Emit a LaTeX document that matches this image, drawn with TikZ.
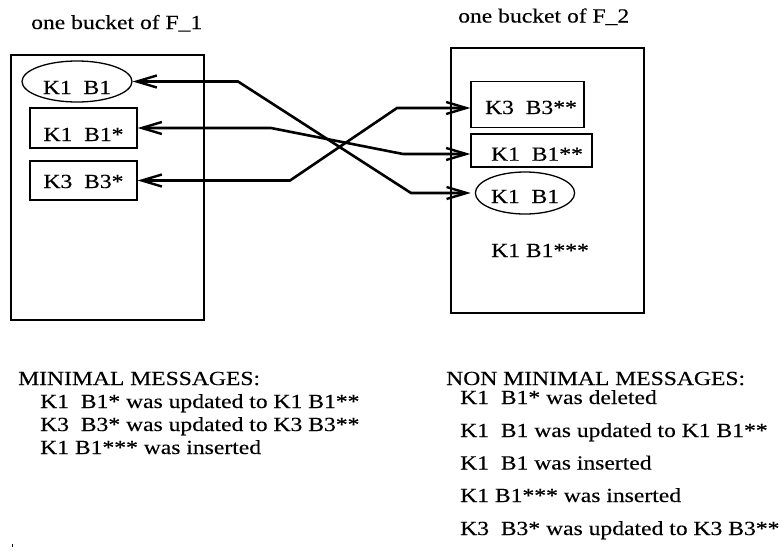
\documentclass[tikz,border=0pt]{standalone}
\usepackage{fontspec}
\setmainfont[FakeStretch=1.18,FakeBold=0.3]{Liberation Serif}
\usetikzlibrary{shapes.geometric,arrows.meta}
\tikzset{
  bucket/.style={draw, line width=1.5pt, minimum width=193pt, minimum height=265pt, inner sep=0pt},
  rec/.style={draw, line width=1.3pt, rectangle, inner sep=1pt},
  ell/.style={draw, line width=1.3pt, ellipse, inner sep=1pt},
  conn/.style={line width=2.6pt, {Straight Barb[length=20pt,width=12pt,line width=2.4pt]}-{Straight Barb[length=20pt,width=12pt,line width=2.4pt]}},
  msg/.style={anchor=base west, inner sep=0pt},
}
\begin{document}
\begin{tikzpicture}[x=1pt, y=-1pt, font=\fontsize{20}{24}\selectfont]
\useasboundingbox (0,0) rectangle (782,552);
% titles
\node[msg] (t1) at (31,29) {one bucket of F\_1};
\node[msg] (t2) at (458,22.5) {one bucket of F\_2};
% buckets
\node[bucket] (L) at (107.5,187.5) {};
\node[bucket] (R) at (547.5,180.5) {};
% left entries
\node[ell, minimum width=110pt, minimum height=41pt, text height=25pt, text depth=0pt] (le) at (77,81.5) {K1\ \ B1};
\node[rec, minimum width=107pt, minimum height=40pt, text height=26pt, text depth=0pt] (lb1) at (83.5,128) {K1\ \ B1*};
\node[rec, minimum width=107pt, minimum height=39pt, text height=15pt, text depth=0pt] (lb3) at (83.5,180.5) {K3\ \ B3*};
% right entries
\node[rec, minimum width=113pt, minimum height=46pt, text height=18.6pt, text depth=0pt] (rb3) at (527.5,104.7) {\hspace*{7pt}K3\ \ B3**};
\node[rec, minimum width=121pt, minimum height=33pt, text height=20.4pt, text depth=0pt] (rb1) at (531.5,150.5) {\hspace*{11pt}K1\ \ B1**};
\node[ell, minimum width=96pt, minimum height=42pt, text height=20pt, text depth=0pt] (re) at (525,193) {K1\ \ B1};
\node[anchor=base, inner sep=0pt] (r3) at (540,257) {K1 B1***};
% connector bends
\coordinate (c1a) at (238,81.5);
\coordinate (c1b) at (411,193);
\coordinate (c2a) at (271,128);
\coordinate (c2b) at (403,154);
\coordinate (c3a) at (290,180.5);
\coordinate (c3b) at (397,108);
\draw[conn, shorten >=4pt] (le.east) -- (c1a) -- (c1b) -- (re.west);
\draw[conn] (lb1.east) -- (c2a) -- (c2b) -- (c2b -| rb1.west);
\draw[conn] (lb3.east) -- (c3a) -- (c3b) -- (c3b -| rb3.west);
% minimal messages
\node[msg] (m0) at (18,385) {MINIMAL MESSAGES:};
\node[msg] (m1) at (40,408) {K1\ \ B1* was updated to K1 B1**};
\node[msg] (m2) at (40,431) {K3\ \ B3* was updated to K3 B3**};
\node[msg] (m3) at (40,454) {K1 B1*** was inserted};
% non minimal messages
\node[msg] (n0) at (446,385) {NON MINIMAL MESSAGES:};
\node[msg] (n1) at (460,404) {K1\ \ B1* was deleted};
\node[msg] (n2) at (460,437) {K1\ \ B1 was updated to K1 B1**};
\node[msg] (n3) at (460,469.5) {K1\ \ B1 was inserted};
\node[msg] (n4) at (460,502) {K1 B1*** was inserted};
\node[msg] (n5) at (460,535) {K3\ \ B3* was updated to K3 B3**};
% stray dot
\fill (11.5,544) rectangle (12.8,546.5);
\end{tikzpicture}
\end{document}
